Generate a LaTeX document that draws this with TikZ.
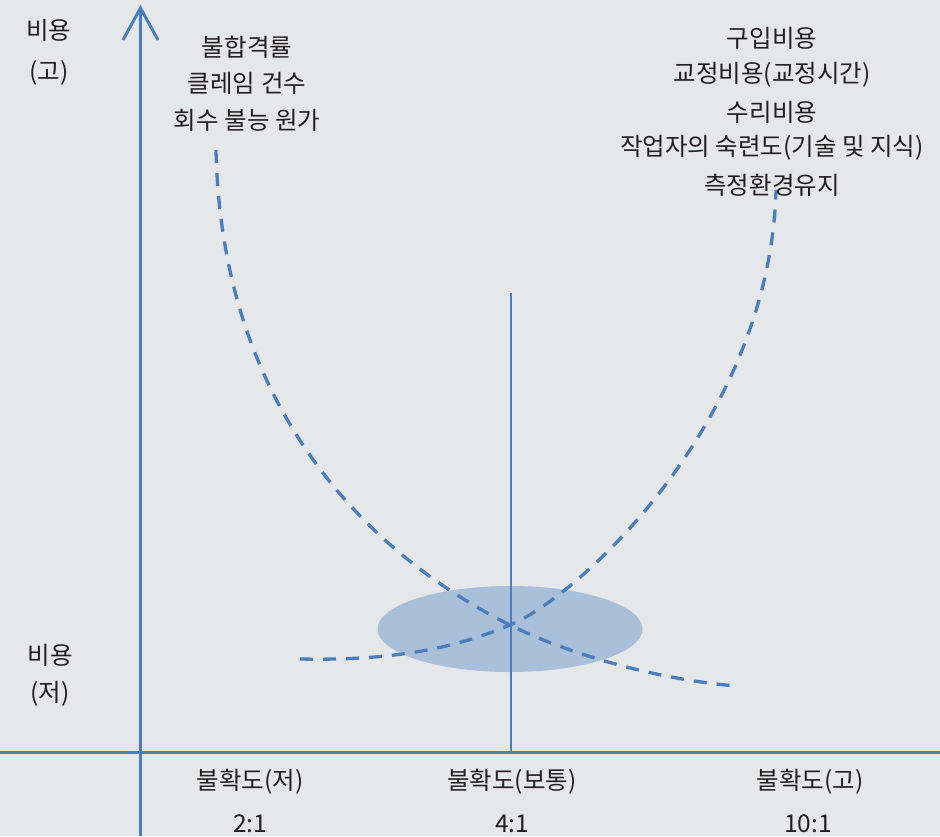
\documentclass[tikz,border=0pt]{standalone}
\usepackage{fontspec}
\setmainfont{Noto Sans CJK KR}
\usetikzlibrary{shapes.geometric}
\definecolor{bgc}{HTML}{E6E7E9}
\definecolor{axisblue}{HTML}{4A7EBD}
\definecolor{ellfill}{HTML}{AABFD9}
\definecolor{txt}{HTML}{231F20}
\tikzset{
  lbl/.style={font=\fontsize{24.5pt}{28pt}\selectfont, text=txt, inner sep=0pt, anchor=center},
  axisline/.style={draw=axisblue, line width=3pt},
  costcurve/.style={draw=axisblue, line width=3.3pt, dash pattern=on 13pt off 10pt},
}
\begin{document}
\begin{tikzpicture}[x=1pt,y=-1pt]
\fill[bgc] (0,0) rectangle (940,836);
\useasboundingbox (0,0) rectangle (940,836);
% ellipse zone
\node[ellipse, fill=ellfill, minimum width=265pt, minimum height=86pt, inner sep=0pt] (zone) at (510,629) {};
% middle vertical line
\coordinate (midtop) at (511,293);
\coordinate (midbot) at (511,752);
\draw[draw=axisblue, line width=2.5pt] (midtop) -- (midbot);
% decreasing curve
\coordinate (d0) at (216,150);
\coordinate (cross) at (510,625);
\coordinate (d1) at (737,686);
\draw[costcurve] (d0) .. controls (222,420) and (380,560) .. (cross)
  .. controls (570,655) and (660,680) .. (d1);
% increasing curve
\coordinate (u0) at (300,659);
\coordinate (u1) at (776,190);
\draw[costcurve] (u0) .. controls (400,661) and (460,646) .. (cross)
  .. controls (580,596) and (770,420) .. (u1);
% axes
\coordinate (ytop) at (140.5,8);
\coordinate (ybot) at (140.5,836);
\coordinate (xl) at (0,752);
\coordinate (xr) at (940,752);
\draw[axisline] (ybot) -- (ytop);
\draw[axisline, line join=miter] (123,40) -- (ytop) -- (158,40);
\draw[axisline] (xl) -- (xr);
% y labels
\node[lbl] (yh1) at (49,30) {비용};
\node[lbl] (yh2) at (49,73) {(고)};
\node[lbl] (yl1) at (50,655) {비용};
\node[lbl] (yl2) at (50,694) {(저)};
% left text block
\node[lbl] (l1) at (247,47) {불합격률};
\node[lbl] (l2) at (247,83) {클레임 건수};
\node[lbl] (l3) at (247,120) {회수 불능 원가};
% right text block
\node[lbl] (r1) at (772,38) {구입비용};
\node[lbl] (r2) at (772,75) {교정비용(교정시간)};
\node[lbl] (r3) at (772,112) {수리비용};
\node[lbl] (r4) at (772,148) {작업자의 숙련도(기술 및 지식)};
\node[lbl] (r5) at (772,185) {측정환경유지};
% x labels
\node[lbl] (x1) at (250,782) {불확도(저)};
\node[lbl] (x2) at (512,782) {불확도(보통)};
\node[lbl] (x3) at (810,782) {불확도(고)};
\node[lbl] (v1) at (250,824) {2:1};
\node[lbl] (v2) at (512,824) {4:1};
\node[lbl] (v3) at (808,824) {10:1};
\end{tikzpicture}
\end{document}
